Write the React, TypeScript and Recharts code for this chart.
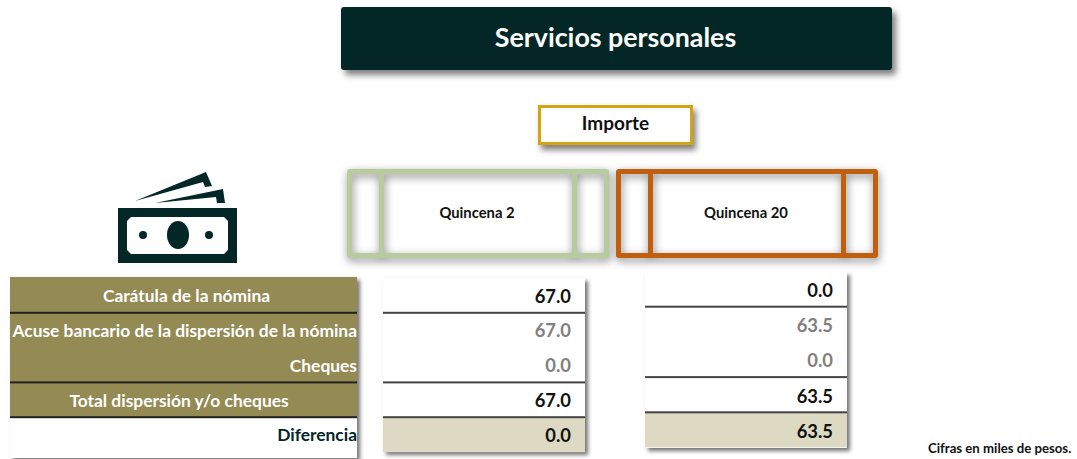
import React from "react";
import { BarChart, Bar, XAxis, YAxis, LabelList } from "recharts";

const titleText = "Servicios personales";
const measureText = "Importe";
const noteText = "Cifras en miles de pesos.";
const periods = ["Quincena 2", "Quincena 20"];
const rows = [
  "Carátula de la nómina",
  "Acuse bancario de la dispersión de la nómina",
  "Cheques",
  "Total dispersión y/o cheques",
  "Diferencia",
];
const quincena2Values = [67.0, 67.0, 0.0, 67.0, 0.0];
const quincena20Values = [0.0, 63.5, 0.0, 63.5, 63.5];

const W = 1077;
const H = 459;
const FONT = "Lato, sans-serif";
const INK = "#032626";
const OLIVE = "#948A54";
const BEIGE = "#DDD9C3";
const SHADOW = "3px 3px 4px rgba(0,0,0,0.55)";
const rowCentres: Record<number, number> = { 0: 186.5, 3: 179 };
const ruleRows = [1, 3, 4];
const mutedRows = [1, 2];

const box = (l: number, t: number, w: number, h: number): React.CSSProperties => ({
  position: "absolute",
  left: l,
  top: t,
  width: w,
  height: h,
  boxSizing: "border-box",
});

function Frame({ left, color, label }: { left: number; color: string; label: string }) {
  const top = 169;
  const w = 262;
  const h = 89;
  const lines = (
    <>
      <div style={{ ...box(0, 0, w, h), border: `5px solid ${color}`, borderRadius: 3 }} />
      <div style={{ ...box(32, 0, 5, h), background: color }} />
      <div style={{ ...box(225, 0, 5, h), background: color }} />
    </>
  );
  return (
    <div style={box(left, top, w, h)}>
      <div style={{ ...box(0, 0, w, h), filter: "drop-shadow(1px 3px 4px rgba(0,0,0,0.5))" }}>{lines}</div>
      <div
        style={{
          ...box(0, 0, w, h),
          paddingBottom: 3,
          paddingRight: 2,
          display: "flex",
          alignItems: "center",
          justifyContent: "center",
          fontFamily: FONT,
          fontWeight: 700,
          fontSize: 14.8,
          color: "#111",
        }}
      >
        {label}
      </div>
    </div>
  );
}

function Icon() {
  return (
    <svg style={{ position: "absolute", left: 0, top: 0 }} width={W} height={H}>
      <polygon points="135,201 206,172 212,186 205,187 203,182" fill={INK} />
      <polygon points="155,203 223,189 225,203 217,203 216,197" fill={INK} />
      <rect x={118} y={208} width={119} height={55} fill={INK} />
      <polygon points="131,217 224,217 228,221 228,250 224,254 131,254 127,250 127,221" fill="#fff" />
      <ellipse cx={178} cy={235} rx={11} ry={14} fill={INK} />
      <circle cx={143} cy={235} r={4} fill={INK} />
      <circle cx={209} cy={235} r={4} fill={INK} />
    </svg>
  );
}

function makeCell(ruleColor: string) {
  return (props: any) => {
    const { x, y, width, height, index } = props;
    return (
      <g>
        <rect x={x} y={y} width={width} height={height} fill={index === rows.length - 1 ? BEIGE : "#fff"} />
        {ruleRows.includes(index) && <rect x={x} y={y - 1} width={width} height={2} fill={ruleColor} />}
      </g>
    );
  };
}

function makeValueLabel(right: number, dy: number, values: number[]) {
  return (props: any) => {
    const { y, height, index } = props;
    return (
      <text
        x={right}
        y={y + height / 2 + dy}
        textAnchor="end"
        dominantBaseline="central"
        fontFamily={FONT}
        fontWeight={700}
        fontSize={18.4}
        fill={mutedRows.includes(index) ? "#808080" : "#111"}
      >
        {values[index].toFixed(1)}
      </text>
    );
  };
}

function RowTick(props: any) {
  const { y, index, payload } = props;
  const left = 10;
  const right = 357;
  const last = index === rows.length - 1;
  const rowH = 34.8;
  const centre = rowCentres[index];
  const top = Math.floor(y - rowH / 2) - (index === 0 ? 1 : 0);
  return (
    <g>
      <rect x={left} y={top} width={right - left} height={rowH + 2} fill={last ? "#fff" : OLIVE} />
      {ruleRows.includes(index) && <rect x={left} y={y - rowH / 2 - 1} width={right - left} height={2} fill="#222" />}
      <text
        x={centre ?? right}
        y={y + 0.3}
        textAnchor={centre ? "middle" : "end"}
        dominantBaseline="central"
        fontFamily={FONT}
        fontWeight={700}
        fontSize={17.4}
        fill={last ? INK : "#fff"}
      >
        {payload.value}
      </text>
    </g>
  );
}

function Column({
  values,
  left,
  right,
  top,
  bottom,
  withLabels,
  ruleColor,
  dy,
}: {
  values: number[];
  left: number;
  right: number;
  top: number;
  bottom: number;
  withLabels: boolean;
  ruleColor: string;
  dy: number;
}) {
  const data = rows.map((row, i) => ({ row, value: values[i] }));
  return (
    <div style={{ position: "absolute", left: 0, top: 0 }}>
      <BarChart
        width={W}
        height={H}
        data={data}
        layout="vertical"
        barCategoryGap={0}
        margin={{ top, bottom: H - bottom, left: withLabels ? 0 : left, right: W - right }}
      >
        <XAxis type="number" domain={[0, 100]} hide />
        <YAxis
          type="category"
          dataKey="row"
          hide={!withLabels}
          width={withLabels ? left : 0}
          axisLine={false}
          tickLine={false}
          interval={0}
          tick={withLabels ? <RowTick /> : false}
        />
        <Bar dataKey="value" fill="none" minPointSize={1} isAnimationActive={false} background={makeCell(ruleColor)}>
          <LabelList dataKey="value" content={makeValueLabel(right - 14, dy, values)} />
        </Bar>
      </BarChart>
    </div>
  );
}

export default function App() {
  return (
    <div style={{ ...box(0, 0, W, H), background: "#fff", overflow: "hidden" }}>
      <div
        style={{
          ...box(341, 7, 551, 63),
          background: INK,
          borderRadius: 3,
          boxShadow: "4px 5px 6px rgba(0,0,0,0.5)",
          color: "#fff",
          fontFamily: FONT,
          fontWeight: 700,
          fontSize: 26.8,
          paddingBottom: 3,
          paddingRight: 2,
          display: "flex",
          alignItems: "center",
          justifyContent: "center",
        }}
      >
        {titleText}
      </div>
      <div
        style={{
          ...box(538, 105, 155, 40),
          background: "#fff",
          border: "3px solid #D4A50E",
          boxShadow: "3px 5px 6px rgba(0,0,0,0.5)",
          color: "#111",
          fontFamily: FONT,
          fontWeight: 700,
          fontSize: 19,
          paddingBottom: 5,
          display: "flex",
          alignItems: "center",
          justifyContent: "center",
        }}
      >
        {measureText}
      </div>
      <Frame left={347} color="#B7CB9E" label={periods[0]} />
      <Frame left={616} color="#C05F0D" label={periods[1]} />
      <Icon />

      <div style={{ ...box(10, 277, 347, 181), background: "#fff", boxShadow: SHADOW }} />
      <div style={{ ...box(383, 278, 202, 174), background: "#fff", boxShadow: SHADOW }} />
      <div style={{ ...box(645, 272, 202, 176), background: "#fff", boxShadow: SHADOW }} />

      <Column values={quincena2Values} left={383} right={585} top={278} bottom={452} withLabels ruleColor="#444" dy={0} />
      <Column values={quincena20Values} left={645} right={847} top={271.5} bottom={447.5} withLabels={false} ruleColor="#444" dy={1} />

      <div
        style={{
          position: "absolute",
          left: 928,
          top: 440,
          fontFamily: FONT,
          fontWeight: 700,
          fontSize: 13.2,
          color: "#111",
          whiteSpace: "nowrap",
        }}
      >
        {noteText}
      </div>
    </div>
  );
}
